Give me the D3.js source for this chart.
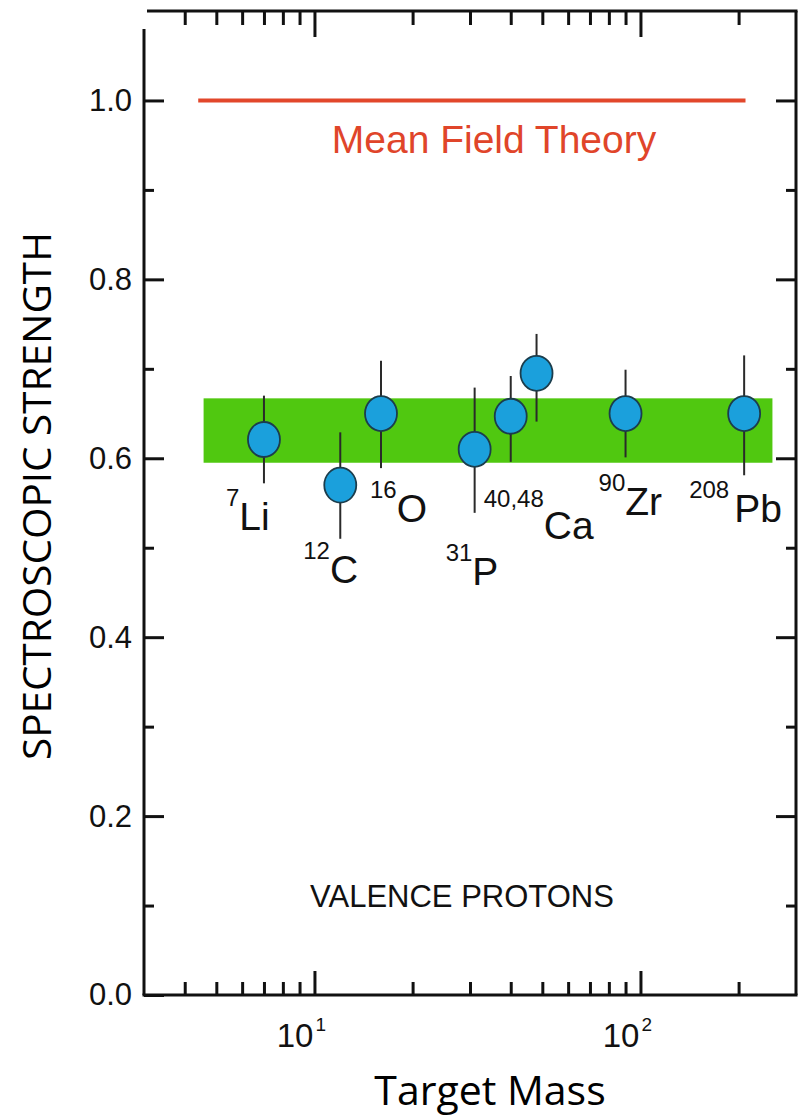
<!DOCTYPE html>
<html>
<head>
<meta charset="utf-8">
<script src="https://cdnjs.cloudflare.com/ajax/libs/d3/7.8.5/d3.min.js"></script>
<style>
  body { margin: 0; background: #fff; }
  svg { display: block; }
  .axis text { font-family: "Liberation Sans", Arial, sans-serif; fill: #111; }
</style>
</head>
<body>
<svg width="804" height="1117"></svg>
<script>
// data
let masses = [7, 12, 16, 31, 40, 48, 90, 208];
let strength = [0.621, 0.570, 0.650, 0.610, 0.647, 0.695, 0.650, 0.650];
let errHigh = [0.670, 0.629, 0.709, 0.679, 0.692, 0.739, 0.699, 0.715];
let errLow = [0.572, 0.510, 0.589, 0.539, 0.596, 0.641, 0.601, 0.581];

let labelMass = ["7", "12", "16", "31", "40,48", "90", "208"];
let labelSymbol = ["Li", "C", "O", "P", "Ca", "Zr", "Pb"];
let labelAnchor = [7, 12, 16, 31, 40, 90, 208];

let bandRange = [0.595, 0.667];
let bandMass = [4.57, 254];
let meanField = 1.0;
let meanFieldMass = [4.4, 210];

let yMajor = [0, 0.2, 0.4, 0.6, 0.8, 1.0];
let yMinor = [0.1, 0.3, 0.5, 0.7, 0.9];
let xMajor = [10, 100];
let xMinor = [4, 5, 6, 7, 8, 9, 20, 30, 40, 50, 60, 70, 80, 90, 200];
let xLabelExp = ["1", "2"];

// label offsets from the point they belong to (pixels)
let labelOffset = [[-38, 91], [-37, 98], [-11, 108], [-29, 136], [-27, 123], [-27, 101], [-55, 108]];
let supRise = [24, 24, 24, 24, 32, 24, 24];

const svg = d3.select("svg");
const pLeft = 144, pRight = 796, pTop = 11, pBottom = 995;

let x = d3.scaleLog().domain([3, 300]).range([pLeft, pRight]);
let y = d3.scaleLinear().domain([0, 1.1]).range([pBottom, pTop]);

// green band
svg.append("rect")
    .attr("x", x(bandMass[0]))
    .attr("width", x(bandMass[1]) - x(bandMass[0]))
    .attr("y", y(bandRange[1]))
    .attr("height", y(bandRange[0]) - y(bandRange[1]))
    .attr("fill", "#50c810");

// mean field line
svg.append("line")
    .attr("x1", x(meanFieldMass[0])).attr("x2", x(meanFieldMass[1]))
    .attr("y1", y(meanField)).attr("y2", y(meanField))
    .attr("stroke", "#e2472b").attr("stroke-width", 4);

svg.append("text")
    .attr("x", 494).attr("y", 153)
    .attr("text-anchor", "middle")
    .attr("font-family", "Liberation Sans, Arial, sans-serif")
    .attr("font-size", 39)
    .attr("fill", "#e0452a")
    .text("Mean Field Theory");

svg.append("text")
    .attr("x", 462).attr("y", 907)
    .attr("text-anchor", "middle")
    .attr("font-family", "Liberation Sans, Arial, sans-serif")
    .attr("font-size", 31)
    .attr("fill", "#111")
    .text("VALENCE PROTONS");

// axes: ticks pointing inward
let gLeft = svg.append("g").attr("class", "axis").attr("transform", "translate(" + pLeft + ",0)");
gLeft.call(d3.axisLeft(y).tickValues(yMajor).tickSize(-20).tickPadding(12).tickFormat(d3.format(".1f")));
gLeft.append("g").call(d3.axisLeft(y).tickValues(yMinor).tickSize(-10).tickFormat(""));

let gRight = svg.append("g").attr("class", "axis").attr("transform", "translate(" + pRight + ",0)");
gRight.call(d3.axisRight(y).tickValues(yMajor.filter(d => d > 0)).tickSize(-20).tickFormat(""));
gRight.append("g").call(d3.axisRight(y).tickValues(yMinor).tickSize(-10).tickFormat(""));

let gBottom = svg.append("g").attr("class", "axis").attr("transform", "translate(0," + pBottom + ")");
gBottom.call(d3.axisBottom(x).tickValues(xMajor).tickSize(-24).tickFormat(""));
gBottom.append("g").call(d3.axisBottom(x).tickValues(xMinor).tickSize(-13).tickFormat(""));

let gTop = svg.append("g").attr("class", "axis").attr("transform", "translate(0," + pTop + ")");
gTop.call(d3.axisTop(x).tickValues(xMajor).tickSize(-26).tickFormat(""));
gTop.append("g").call(d3.axisTop(x).tickValues(xMinor).tickSize(-14).tickFormat(""));

svg.selectAll(".axis path.domain").remove();
svg.selectAll(".axis .tick line").attr("stroke", "#111").attr("stroke-width", 3);
gLeft.selectAll("text").style("font-size", "31px").attr("fill", "#111");

// frame
let frame = [
    [pLeft, pBottom, pLeft, 29],
    [pLeft - 1.5, pBottom, pRight + 1.5, pBottom],
    [pRight, pBottom, pRight, pTop],
    [147, pTop, pRight + 1.5, pTop]
];
svg.append("g").selectAll("line").data(frame).join("line")
    .attr("x1", d => d[0]).attr("y1", d => d[1])
    .attr("x2", d => d[2]).attr("y2", d => d[3])
    .attr("stroke", "#111").attr("stroke-width", 3);

// decade labels 10^n
xMajor.forEach((v, i) => {
    svg.append("text")
        .attr("x", x(v) - 1).attr("y", 1047)
        .attr("text-anchor", "end")
        .attr("font-family", "Liberation Sans, Arial, sans-serif")
        .attr("font-size", 33).attr("fill", "#111")
        .text("10");
    svg.append("text")
        .attr("x", x(v) + 1).attr("y", 1031)
        .attr("font-family", "Liberation Sans, Arial, sans-serif")
        .attr("font-size", 19).attr("fill", "#111")
        .text(xLabelExp[i]);
});

// error bars and points
let points = masses.map((m, i) => ({ m: m, v: strength[i], hi: errHigh[i], lo: errLow[i] }));

svg.append("g").selectAll("line").data(points).join("line")
    .attr("x1", d => x(d.m)).attr("x2", d => x(d.m))
    .attr("y1", d => y(d.hi)).attr("y2", d => y(d.lo))
    .attr("stroke", "#2a2a2a").attr("stroke-width", 2);

svg.append("g").selectAll("ellipse").data(points).join("ellipse")
    .attr("cx", d => x(d.m)).attr("cy", d => y(d.v))
    .attr("rx", 16).attr("ry", 17.5)
    .attr("fill", "#1ba0dc")
    .attr("stroke", "#1c3d4c").attr("stroke-width", 1.8);

// isotope labels
labelSymbol.forEach((s, i) => {
    let idx = masses.indexOf(labelAnchor[i]);
    let px = x(masses[idx]) + labelOffset[i][0];
    let py = y(strength[idx]) + labelOffset[i][1];
    let t = svg.append("text")
        .attr("x", px).attr("y", py)
        .attr("font-family", "Liberation Sans, Arial, sans-serif")
        .attr("fill", "#111");
    t.append("tspan").attr("font-size", 24).attr("dy", -supRise[i]).text(labelMass[i]);
    t.append("tspan").attr("font-size", 39).attr("dy", supRise[i]).attr("dx", s === "Pb" ? 5 : 0).text(s);
});

// axis titles
svg.append("text")
    .attr("transform", "translate(51,496)rotate(-90)")
    .attr("text-anchor", "middle")
    .attr("font-family", "Open Sans, sans-serif")
    .attr("font-size", 39)
    .attr("textLength", 528)
    .attr("lengthAdjust", "spacingAndGlyphs")
    .attr("fill", "#000")
    .text("SPECTROSCOPIC STRENGTH");

svg.append("text")
    .attr("x", 490).attr("y", 1105)
    .attr("text-anchor", "middle")
    .attr("font-family", "Open Sans, sans-serif")
    .attr("font-size", 41)
    .attr("fill", "#000")
    .text("Target Mass");
</script>
</body>
</html>
